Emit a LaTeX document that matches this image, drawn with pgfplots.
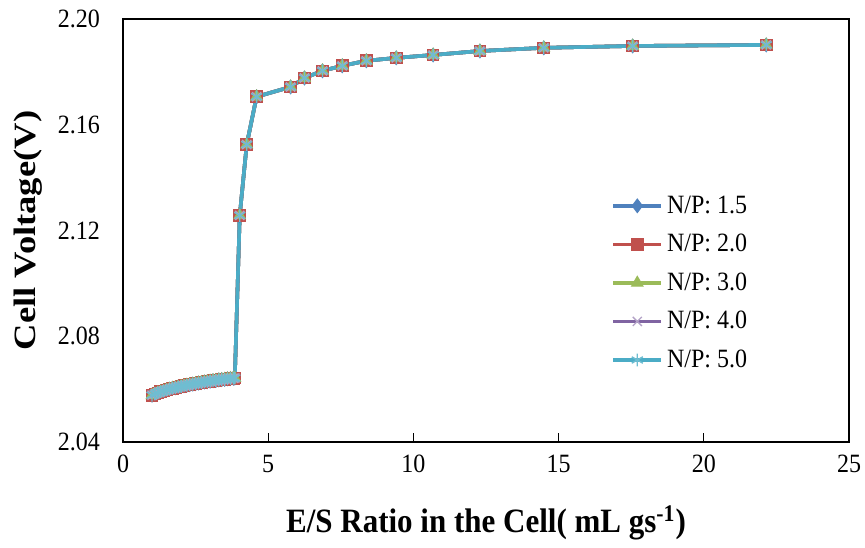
\documentclass[border=0pt]{standalone}
\usepackage{fontspec}
\setmainfont{Liberation Serif}
\usepackage{pgfplots}
\pgfplotsset{compat=1.18}
\usepackage{pgfplotstable}
\definecolor{cB}{HTML}{4F81BD}
\definecolor{cR}{HTML}{C0504D}
\definecolor{cG}{HTML}{9BBB59}
\definecolor{cP}{HTML}{8064A2}
\definecolor{cC}{HTML}{4BACC6}
\pgfplotstableread{
x y
1.0 2.0577
1.1 2.0582
1.2 2.0586
1.3 2.0590
1.4 2.0593
1.5 2.0597
1.6 2.0600
1.7 2.0603
1.8 2.0605
1.9 2.0608
2.0 2.0610
2.1 2.0613
2.2 2.0615
2.3 2.0617
2.4 2.0619
2.5 2.0621
2.6 2.0623
2.7 2.0625
2.8 2.0627
2.9 2.0628
3.0 2.0630
3.1 2.0632
3.2 2.0633
3.3 2.0635
3.4 2.0636
3.5 2.0637
3.6 2.0639
3.7 2.0640
3.8 2.0641
3.85 2.0642
4.02 2.1257
4.26 2.1525
4.60 2.1706
5.77 2.1743
6.25 2.1777
6.87 2.1804
7.55 2.1823
8.38 2.1842
9.41 2.1853
10.68 2.1864
12.29 2.1879
14.49 2.1891
17.55 2.1898
22.15 2.1902
}\datatable
\begin{document}
\begin{tikzpicture}
\begin{axis}[
  scale only axis,
  width=363pt, height=211.5pt,
  xmin=0, xmax=25, ymin=2.04, ymax=2.20,
  xtick={0,5,10,15,20,25},
  ytick={2.04,2.08,2.12,2.16,2.20},
  axis line style={line width=1.2pt, black},
  tick align=inside,
  xtick pos=bottom,
  ytick pos=left,
  major tick length=4.5pt,
  xtick style={line width=0.6pt, black},
  ytick style={draw=none},
  /pgf/number format/assume math mode=true,
  yticklabel={\scalebox{1}[1.1]{\pgfmathprintnumber[fixed,fixed zerofill,precision=2]{\tick}}},
  xticklabel={\scalebox{1}[1.1]{\pgfmathprintnumber{\tick}}},
  tick label style={font=\fontsize{12}{14}\selectfont},
  yticklabel style={xshift=-8pt},
  xticklabel style={yshift=-3pt},
  xlabel={\scalebox{1}[1.1]{\textbf{E/S Ratio in the Cell( mL gs\textsuperscript{-1})}}},
  ylabel={\scalebox{1.18}[1]{\textbf{Cell Voltage(V)}}},
  label style={font=\fontsize{15.5}{18}\selectfont},
  xlabel style={at={(axis description cs:0.5,-0.1915)}, anchor=center},
  ylabel style={at={(axis description cs:-0.1309,0.5)}, anchor=center},
  legend style={draw=none, fill=none, font=\fontsize{12}{14}\selectfont,
    at={(axis description cs:0.769,0.376)}, anchor=center, row sep=5pt,
    inner sep=0pt},
  legend cell align=left,
  legend image code/.code={\draw[mark repeat=2,mark phase=2] plot coordinates {(0pt,0pt) (12pt,0pt) (24pt,0pt)};},
  every axis plot/.append style={line width=1.8pt},
]
\addplot[cB, mark=diamond*, mark size=3.4pt, mark options={solid, fill=cB, line width=0.5pt}] table {\datatable};
\addlegendentry{\scalebox{1}[1.1]{N/P: 1.5}}
\addplot[cR, mark=square*, mark size=2.9pt, mark options={solid, fill=cR, line width=0.5pt}] table {\datatable};
\addlegendentry{\scalebox{1}[1.1]{N/P: 2.0}}
\addplot[cG, mark=triangle*, mark size=3.3pt, mark options={solid, fill=cG, line width=0.5pt}] table {\datatable};
\addlegendentry{\scalebox{1}[1.1]{N/P: 3.0}}
\addplot[cP, mark=x, mark size=3.2pt, mark options={solid, draw=cP!60, line width=0.7pt}] table {\datatable};
\addlegendentry{\scalebox{1}[1.1]{N/P: 4.0}}
\addplot[cC, mark=asterisk, mark size=3.2pt, mark options={solid, draw=cC!80, line width=0.7pt}] table {\datatable};
\addlegendentry{\scalebox{1}[1.1]{N/P: 5.0}}
\end{axis}
\pgfresetboundingbox
\path[use as bounding box] (-61.5pt,-52.5pt) rectangle (371pt,221pt);
\end{tikzpicture}
\end{document}
